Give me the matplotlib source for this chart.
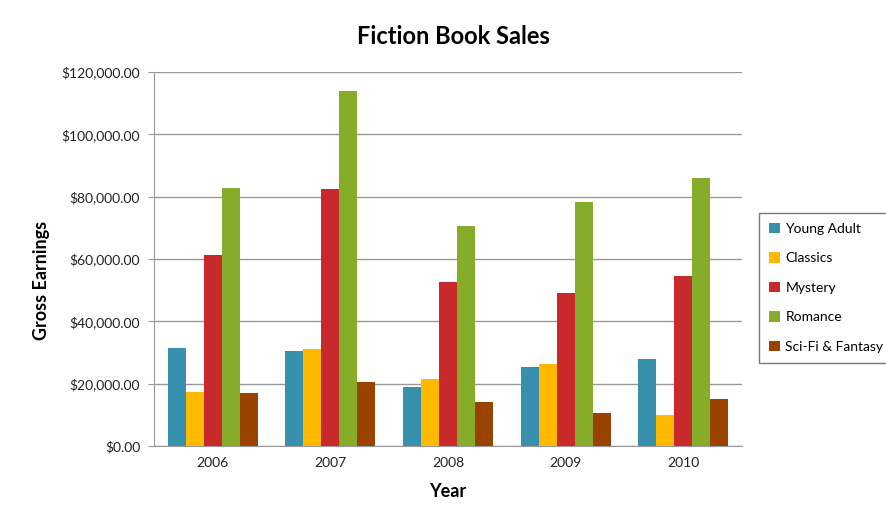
import numpy as np
import matplotlib.pyplot as plt
from matplotlib.ticker import FuncFormatter

plt.rcParams['font.family'] = ['Lato', 'DejaVu Sans']

# Gross earnings per genre and year
years = ['2006', '2007', '2008', '2009', '2010']
young_adult = [31300, 30500, 18800, 25500, 27800]
classics = [17400, 31000, 21500, 26300, 9900]
mystery = [61300, 82400, 52700, 49200, 54700]
romance = [82700, 113900, 70600, 78400, 85900]
scifi = [16900, 20400, 14200, 10700, 15000]

series = [young_adult, classics, mystery, romance, scifi]
names = ['Young Adult', 'Classics', 'Mystery', 'Romance', 'Sci-Fi & Fantasy']
colors = ['#3690AE', '#FFBA00', '#C8292B', '#86AC2A', '#9A4200']

fig = plt.figure(figsize=(8.86, 5.17), dpi=100)
ax = fig.add_axes([154/886, 1 - 446/517, 588/886, 374/517])

x = np.arange(len(years))
w = 0.153
for i, (vals, name, c) in enumerate(zip(series, names, colors)):
    ax.bar(x + (i - 2) * w, vals, width=w, color=c, label=name, zorder=3)

ax.set_xlim(-0.5, len(years) - 0.5)
ax.set_ylim(0, 120000)
ax.set_yticks(np.arange(0, 120001, 20000))
ax.yaxis.set_major_formatter(FuncFormatter(lambda v, p: f'${v:,.2f}'))
ax.set_xticks(x)
ax.set_xticklabels(years)
ax.grid(axis='y', color='#999999', linewidth=1, zorder=0)
for s in ['top', 'right']:
    ax.spines[s].set_visible(False)
for s in ['left', 'bottom']:
    ax.spines[s].set_color('#999999')
ax.tick_params(axis='y', length=4, color='#999999', labelsize=10, pad=6,
               labelcolor='#222222')
ax.tick_params(axis='x', length=0, labelsize=10, pad=8, labelcolor='#222222')

fig.text(453/886, 1 - 37/517, 'Fiction Book Sales', ha='center', va='center',
         fontsize=17, fontweight='bold')
ax.set_xlabel('Year', fontsize=13, fontweight='bold', labelpad=10)
fig.text(42/886, 1 - 280/517, 'Gross Earnings', rotation=90, ha='center',
         va='center', fontsize=13, fontweight='bold')

leg = ax.legend(loc='upper left', bbox_to_anchor=(759/886, 1 - 213/517),
                bbox_transform=fig.transFigure, frameon=True, fancybox=False,
                fontsize=10, handlelength=0.8, handleheight=0.8,
                handletextpad=0.4, labelspacing=1.25, borderpad=0.7,
                borderaxespad=0)
leg.get_frame().set_edgecolor('#555555')
leg.get_frame().set_linewidth(1)

fig.savefig('out.png', dpi=100)
